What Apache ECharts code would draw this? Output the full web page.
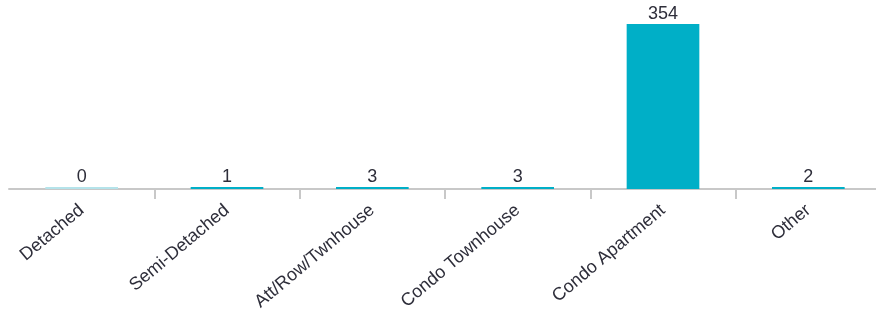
<!DOCTYPE html>
<html><head><meta charset="utf-8">
<script src="https://cdn.jsdelivr.net/npm/echarts@6/dist/echarts.min.js"></script>
<style>html,body{margin:0;padding:0;background:#fff;overflow:hidden}#c{width:876px;height:320px}</style>
</head><body><div id="c"></div>
<script>
var categories = ["Detached", "Semi-Detached", "Att/Row/Twnhouse", "Condo Townhouse", "Condo Apartment", "Other"];
var values = [0, 1, 3, 3, 354, 2];
var gridLeft = 9, gridWidth = 872, band = gridWidth / categories.length;
var chart = echarts.init(document.getElementById('c'));
chart.setOption({
  animation: false,
  grid: [
    { left: gridLeft, width: gridWidth, top: 24, height: 165, outerBoundsMode: 'none', containLabel: false },
    { left: gridLeft + band, width: band * (categories.length - 2), top: 24, height: 165, outerBoundsMode: 'none', containLabel: false }
  ],
  xAxis: [{
    type: 'category', data: categories, gridIndex: 0,
    axisLine: { lineStyle: { color: '#c8c8c8', width: 2 } },
    axisTick: { show: false },
    axisLabel: { rotate: 40, color: '#2e2e3a', fontFamily: 'Liberation Sans, Arial', fontSize: 18, margin: 19, interval: 0 }
  }, {
    type: 'value', gridIndex: 1, min: 0, max: categories.length - 2, interval: 1,
    axisLine: { show: false },
    axisTick: { show: true, length: 10, lineStyle: { color: '#c8c8c8', width: 2 } },
    axisLabel: { show: false }, splitLine: { show: false }
  }],
  yAxis: [
    { type: 'value', gridIndex: 0, min: 0, max: 354, show: false, splitLine: { show: false } },
    { type: 'value', gridIndex: 1, show: false, splitLine: { show: false } }
  ],
  series: [{
    type: 'bar', barWidth: '50%', barMinHeight: 2, xAxisIndex: 0, yAxisIndex: 0,
    data: values.map(function (v) {
      return v === 0 ? { value: v, itemStyle: { color: '#b5e3ea' } } : v;
    }),
    itemStyle: { color: '#00afc7' },
    label: { show: true, position: 'top', distance: 1, color: '#2e2e3a', fontFamily: 'Liberation Sans, Arial', fontSize: 18 }
  }]
});
</script></body></html>
